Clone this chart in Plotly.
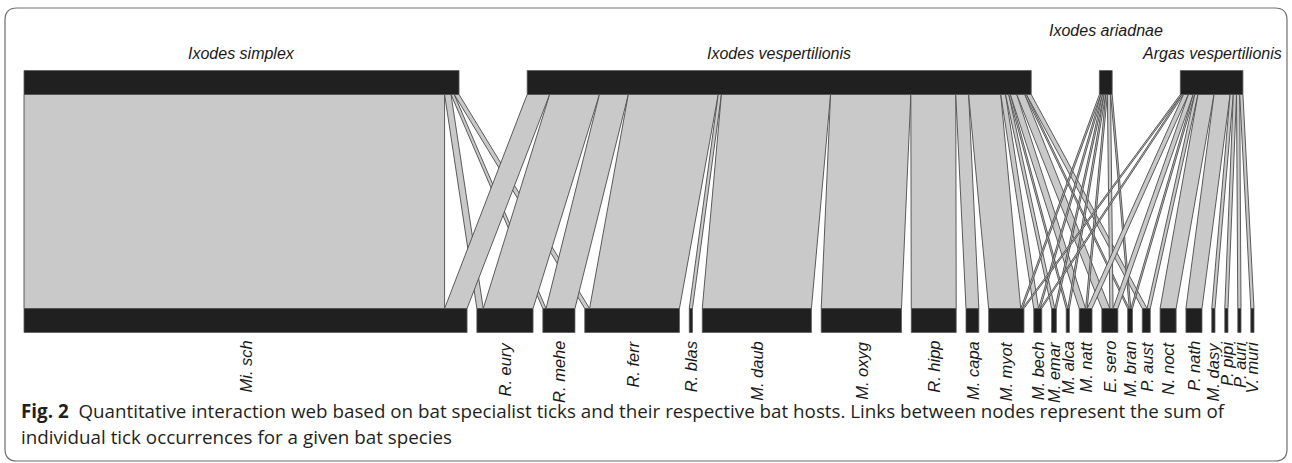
import plotly.graph_objects as go

# ---------------- data ----------------
ticks = ["Ixodes simplex", "Ixodes vespertilionis", "Ixodes ariadnae", "Argas vespertilionis"]
bats = ["Mi. sch", "R. eury", "R. mehe", "R. ferr", "R. blas", "M. daub", "M. oxyg",
        "R. hipp", "M. capa", "M. myot", "M. bech", "M. emar", "M. alca", "M. natt",
        "E. sero", "M. bran", "P. aust", "N. noct", "P. nath", "M. dasy", "P. pipi",
        "P. auri", "V. muri"]

# tick occurrences per bat species (same order as `bats`)
i_simplex = [262, 4, 2, 3, 0, 0, 0, 0, 0, 0, 0, 0, 0, 0, 0, 0, 0, 0, 0, 0, 0, 0, 0]
i_vesp    = [14, 31, 18, 56, 2, 68, 50, 28, 8, 20, 3, 2, 1, 4, 5, 1, 3, 0, 0, 0, 0, 0, 0]
i_ariad   = [0, 0, 0, 0, 0, 0, 0, 0, 0, 1, 1, 1, 1, 1, 2, 1, 0, 0, 0, 0, 0, 0, 0]
i_argas   = [0, 0, 0, 0, 0, 0, 0, 0, 0, 1, 1, 0, 0, 3, 3, 1, 2, 10, 10, 2, 2, 2, 2]

# label stagger level for the upper species (plotweb-like)
tick_label_level = [0, 0, 1, 0]

web = [i_simplex, i_vesp, i_ariad, i_argas]

# ---------------- layout parameters ----------------
W, H = 1292, 463
LOW_GAP = 6.1          # gap between lower boxes (in interaction units)
HIGH_SPAN_RATIO = 0.991  # width of upper level relative to lower level
BOX_H = 0.112          # box thickness in y units (0 = lower level top, 1 = upper level bottom)

n_high = len(ticks)
n_low = len(bats)
high_tot = [sum(r) for r in web]
low_tot = [sum(web[j][i] for j in range(n_high)) for i in range(n_low)]
N = sum(high_tot)

low_left = []
x = 0.0
for t in low_tot:
    low_left.append(x)
    x += t + LOW_GAP
span_low = x - LOW_GAP

HIGH_GAP = (span_low * HIGH_SPAN_RATIO - N) / (n_high - 1)
high_left = []
x = 0.0
for t in high_tot:
    high_left.append(x)
    x += t + HIGH_GAP

# pixel mapping for axis ranges
LEFT_PX, RIGHT_PX = 24, 1254
s = (RIGHT_PX - LEFT_PX) / span_low
x_range = [-LEFT_PX / s, (W - LEFT_PX) / s]

LOW_TOP_PX, HIGH_BOT_PX = 308.5, 94.5
sy = LOW_TOP_PX - HIGH_BOT_PX
y_range = [-(H - LOW_TOP_PX) / sy, 1 + HIGH_BOT_PX / sy]


def py(px):
    return (LOW_TOP_PX - px) / sy


fig = go.Figure()

# ---------------- links ----------------
high_cursor = list(high_left)
low_cursor = list(low_left)
segments = {}
for j in range(n_high):
    for i in range(n_low):
        w = web[j][i]
        if w > 0:
            segments[(j, i)] = [high_cursor[j], high_cursor[j] + w]
            high_cursor[j] += w
for i in range(n_low):
    for j in range(n_high):
        w = web[j][i]
        if w > 0:
            segments[(j, i)] += [low_cursor[i], low_cursor[i] + w]
            low_cursor[i] += w

for (j, i), (h1, h2, l1, l2) in segments.items():
    fig.add_trace(go.Scatter(
        x=[h1, h2, l2, l1, h1], y=[1, 1, 0, 0, 1],
        mode="lines", fill="toself", fillcolor="rgb(201,201,201)",
        line=dict(color="rgb(75,75,75)", width=0.9),
        hoverinfo="skip", showlegend=False))

# ---------------- boxes ----------------
def boxes(lefts, tots, y0, y1):
    xs, ys = [], []
    for l, t in zip(lefts, tots):
        xs += [l, l + t, l + t, l, l, None]
        ys += [y0, y0, y1, y1, y0, None]
    return xs, ys

bx, by = boxes(high_left, high_tot, 1, 1 + BOX_H)
fig.add_trace(go.Scatter(x=bx, y=by, mode="lines", fill="toself",
                         fillcolor="rgb(32,32,32)", line=dict(color="rgb(90,90,90)", width=0.8),
                         hoverinfo="skip", showlegend=False))
bx, by = boxes(low_left, low_tot, -BOX_H, 0)
fig.add_trace(go.Scatter(x=bx, y=by, mode="lines", fill="toself",
                         fillcolor="rgb(32,32,32)", line=dict(color="rgb(90,90,90)", width=0.8),
                         hoverinfo="skip", showlegend=False))

# ---------------- labels ----------------
top_font = dict(family="Liberation Sans, Arial, sans-serif", size=16, color="#1a1a1a")
bot_font = dict(family="Liberation Sans, Arial, sans-serif", size=16.5, color="#1a1a1a")
ann = []
for j, name in enumerate(ticks):
    yl = py(53) if tick_label_level[j] == 0 else py(30)
    ann.append(dict(x=high_left[j] + high_tot[j] / 2, y=yl, xref="x", yref="y",
                    text="<i>%s</i>" % name, showarrow=False, font=top_font,
                    xanchor="center", yanchor="middle"))
for i, name in enumerate(bats):
    ann.append(dict(x=low_left[i] + low_tot[i] / 2, y=py(339), xref="x", yref="y",
                    text="<i>%s</i>" % name, showarrow=False, font=bot_font,
                    textangle=-90, xanchor="center", yanchor="top"))

cap_font = dict(family="Open Sans, Noto Sans, sans-serif", size=18.8, color="#231f20")
ann.append(dict(x=19 / W, y=1 - 411 / H, xref="paper", yref="paper", showarrow=False,
                xanchor="left", yanchor="middle", font=cap_font,
                text="<b>Fig. 2</b>  Quantitative interaction web based on bat specialist ticks and their "
                     "respective bat hosts. Links between nodes represent the sum of"))
ann.append(dict(x=19 / W, y=1 - 437 / H, xref="paper", yref="paper", showarrow=False,
                xanchor="left", yanchor="middle", font=cap_font,
                text="individual tick occurrences for a given bat species"))

# ---------------- rounded frame ----------------
x0, x1, y0, y1, r = 5, 1287, 8, 461, 12
def P(px, pyy):
    return "%.5f,%.5f" % (px / W, 1 - pyy / H)
path = ("M " + P(x0 + r, y0) + " L " + P(x1 - r, y0) + " Q " + P(x1, y0) + " " + P(x1, y0 + r) +
        " L " + P(x1, y1 - r) + " Q " + P(x1, y1) + " " + P(x1 - r, y1) +
        " L " + P(x0 + r, y1) + " Q " + P(x0, y1) + " " + P(x0, y1 - r) +
        " L " + P(x0, y0 + r) + " Q " + P(x0, y0) + " " + P(x0 + r, y0) + " Z")

fig.update_layout(
    width=W, height=H, margin=dict(l=0, r=0, t=0, b=0),
    paper_bgcolor="white", plot_bgcolor="white",
    xaxis=dict(range=x_range, visible=False, fixedrange=True),
    yaxis=dict(range=y_range, visible=False, fixedrange=True),
    annotations=ann,
    shapes=[dict(type="path", xref="paper", yref="paper", path=path,
                 line=dict(color="rgb(110,110,110)", width=1.2), layer="above")],
)

fig.write_html("out.html", config={"displayModeBar": False},
               post_script="document.body.style.margin='0';document.body.style.overflow='hidden';")
